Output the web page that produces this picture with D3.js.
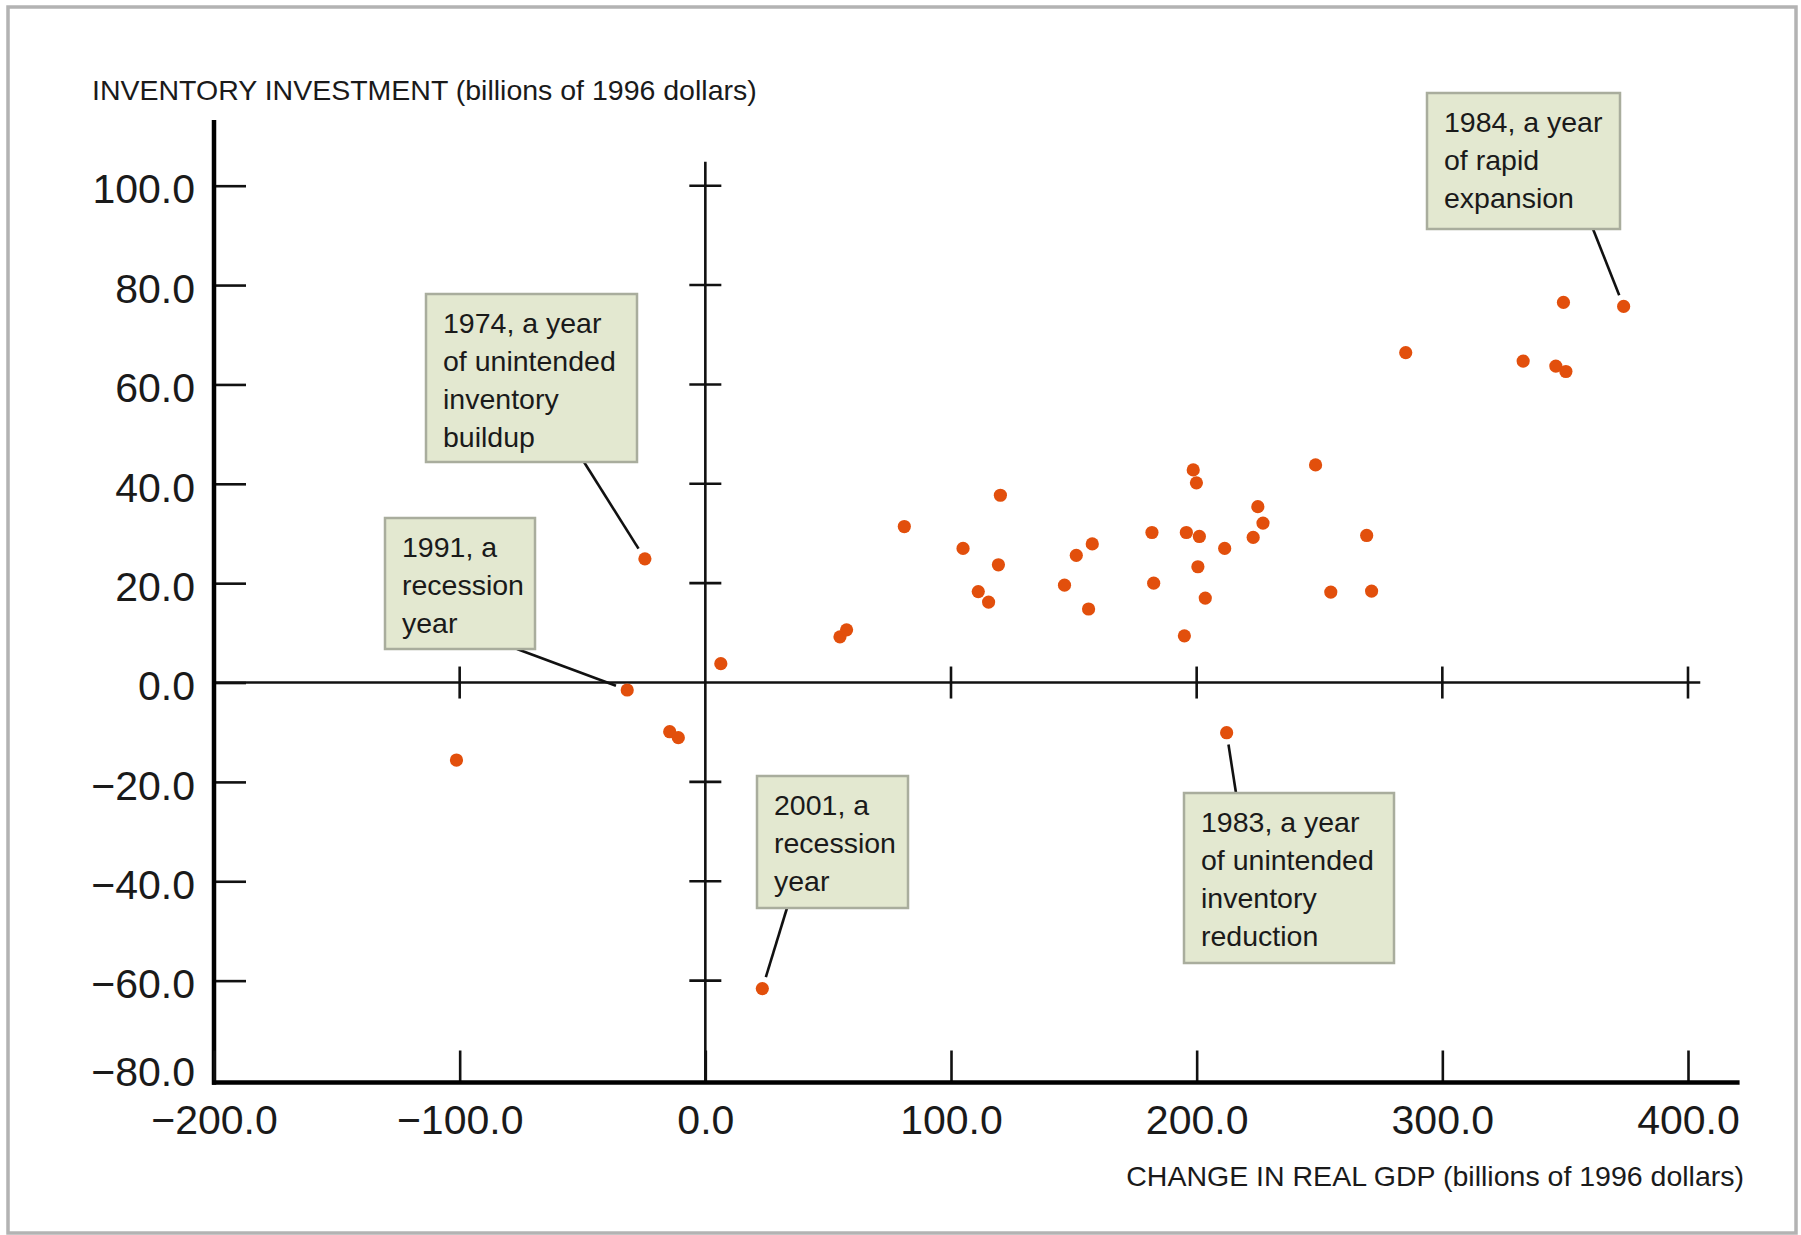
<!DOCTYPE html>
<html>
<head>
<meta charset="utf-8">
<script src="https://cdn.jsdelivr.net/npm/d3@7"></script>
<style>
  html, body { margin: 0; padding: 0; background: #ffffff; }
  svg { display: block; }
  text { font-family: "Liberation Sans", Arial, sans-serif; fill: #1a1a1a; }
</style>
</head>
<body>
<svg id="chart" width="1801" height="1235"></svg>
<script>
// ---- Data ----
const gdpChange = [-101.3, -31.8, -24.6, -14.5, -11.0, 6.3, 23.2, 54.8, 57.5, 81.0,
  104.9, 111.1, 115.3, 119.3, 120.1, 146.2, 151.0, 156.0, 157.5, 181.8,
  182.5, 195.0, 195.8, 198.6, 199.9, 200.5, 201.1, 203.5, 211.4, 212.2,
  223.0, 224.9, 227.0, 248.4, 254.6, 269.2, 271.2, 285.1, 332.9, 346.2,
  349.3, 350.3, 373.8];
const inventoryInvestment = [-15.6, -1.5, 24.9, -9.9, -11.1, 3.8, -61.6, 9.2, 10.6, 31.4,
  27.0, 18.3, 16.2, 23.7, 37.7, 19.6, 25.6, 14.8, 27.9, 30.2,
  20.0, 9.4, 30.2, 42.8, 40.2, 23.3, 29.4, 17.0, 27.0, -10.1,
  29.2, 35.4, 32.1, 43.8, 18.2, 29.6, 18.4, 66.4, 64.7, 63.7,
  76.5, 62.6, 75.7];
const xTicks = [-200, -100, 0, 100, 200, 300, 400];
const yTicks = [-80, -60, -40, -20, 0, 20, 40, 60, 80, 100];
const yTitle = "INVENTORY INVESTMENT (billions of 1996 dollars)";
const xTitle = "CHANGE IN REAL GDP (billions of 1996 dollars)";
const annotationYears = ["1974", "1991", "2001", "1983", "1984"];
const annotationPointIndex = [2, 1, 6, 29, 42];
const annotationLines = [
  ["1974, a year", "of unintended", "inventory", "buildup"],
  ["1991, a", "recession", "year"],
  ["2001, a", "recession", "year"],
  ["1983, a year", "of unintended", "inventory", "reduction"],
  ["1984, a year", "of rapid", "expansion"]
];

// ---- Layout ----
const boxLayout = [
  { x: 426, y: 294, w: 211, h: 168, lx: 584, ly: 462 },
  { x: 385, y: 518, w: 150, h: 131, lx: 517, ly: 649 },
  { x: 757, y: 776, w: 151, h: 132, lx: 787, ly: 908 },
  { x: 1184, y: 793, w: 210, h: 170, lx: 1236, ly: 793 },
  { x: 1427, y: 93, w: 193, h: 136, lx: 1593, ly: 229 }
];
const axisDrop = 2.5; // thick bottom axis sits slightly below the -80 gridline

const svg = d3.select("#chart");
const x = d3.scaleLinear().domain([-200, 400]).range([214, 1688]);
const y = d3.scaleLinear().domain([-80, 100]).range([1080, 185.7]);
const fmt = d3.format(".1f");

// frame
svg.append("rect").attr("x", 8).attr("y", 7).attr("width", 1788).attr("height", 1226)
  .attr("fill", "#ffffff").attr("stroke", "#b3b3b3").attr("stroke-width", 3.5);

// zero lines
svg.append("line").attr("x1", x(-200)).attr("x2", x(405))
  .attr("y1", y(0)).attr("y2", y(0)).attr("stroke", "#111").attr("stroke-width", 2.6);
svg.append("line").attr("x1", x(0)).attr("x2", x(0))
  .attr("y1", y(104.8)).attr("y2", y(-80) + axisDrop).attr("stroke", "#111").attr("stroke-width", 2.6);

// cross ticks on zero lines
svg.append("g").selectAll("line").data(yTicks.filter(v => v !== 0 && v !== -80)).join("line")
  .attr("x1", x(0) - 16).attr("x2", x(0) + 16)
  .attr("y1", d => y(d)).attr("y2", d => y(d))
  .attr("stroke", "#111").attr("stroke-width", 2.6);
svg.append("g").selectAll("line").data(xTicks.filter(v => v !== 0 && v !== -200)).join("line")
  .attr("y1", y(0) - 16).attr("y2", y(0) + 16)
  .attr("x1", d => x(d)).attr("x2", d => x(d))
  .attr("stroke", "#111").attr("stroke-width", 2.6);

// left axis
const yAxisG = svg.append("g").attr("transform", `translate(${x(-200)},0)`)
  .call(d3.axisLeft(y).tickValues(yTicks).tickFormat(fmt).tickSizeInner(-32).tickSizeOuter(0).tickPadding(19));
yAxisG.select(".domain").remove();
yAxisG.selectAll(".tick line").attr("stroke", "#111").attr("stroke-width", 2.6)
  .attr("display", d => d === -80 ? "none" : null);
yAxisG.selectAll(".tick text")
  .attr("font-size", 41).attr("fill", "#1a1a1a")
  .attr("dy", d => d === -80 ? "0.14em" : "0.42em");
svg.append("line").attr("x1", x(-200)).attr("x2", x(-200))
  .attr("y1", y(113.2)).attr("y2", y(-80) + axisDrop + 2.2)
  .attr("stroke", "#000").attr("stroke-width", 4.5);

// bottom axis
const xAxisG = svg.append("g").attr("transform", `translate(0,${y(-80) + axisDrop})`)
  .call(d3.axisBottom(x).tickValues(xTicks).tickFormat(fmt).tickSizeInner(-32).tickSizeOuter(0).tickPadding(22));
xAxisG.select(".domain").remove();
xAxisG.selectAll(".tick line").attr("stroke", "#111").attr("stroke-width", 2.6);
xAxisG.selectAll(".tick text").attr("font-size", 41).attr("fill", "#1a1a1a");
svg.append("line").attr("x1", x(-200) - 2).attr("x2", x(421))
  .attr("y1", y(-80) + axisDrop).attr("y2", y(-80) + axisDrop)
  .attr("stroke", "#000").attr("stroke-width", 4.5);

// axis titles
svg.append("text").attr("x", 92).attr("y", 100).attr("font-size", 28.5).text(yTitle);
svg.append("text").attr("x", 1744).attr("y", 1186).attr("font-size", 28.5)
  .attr("text-anchor", "end").text(xTitle);

// annotations
const ann = annotationYears.map((yr, i) => ({
  year: yr, lines: annotationLines[i], box: boxLayout[i],
  px: x(gdpChange[annotationPointIndex[i]]), py: y(inventoryInvestment[annotationPointIndex[i]])
}));
const annG = svg.append("g");
ann.forEach(a => {
  const dx = a.box.lx - a.px, dy = a.box.ly - a.py;
  const len = Math.hypot(dx, dy);
  const gap = 12;
  annG.append("line")
    .attr("x1", a.box.lx).attr("y1", a.box.ly)
    .attr("x2", a.px + dx / len * gap).attr("y2", a.py + dy / len * gap)
    .attr("stroke", "#111").attr("stroke-width", 2.6);
  annG.append("rect").attr("x", a.box.x).attr("y", a.box.y)
    .attr("width", a.box.w).attr("height", a.box.h)
    .attr("fill", "#e3e8d0").attr("stroke", "#a9ad9d").attr("stroke-width", 2.5);
  const t = annG.append("text").attr("font-size", 28.5).attr("fill", "#1a1a1a");
  a.lines.forEach((ln, j) => {
    t.append("tspan").attr("x", a.box.x + 17).attr("y", a.box.y + 39 + j * 38).text(ln);
  });
});

// points
svg.append("g").selectAll("circle").data(gdpChange.map((g, i) => [g, inventoryInvestment[i]]))
  .join("circle")
  .attr("cx", d => x(d[0])).attr("cy", d => y(d[1])).attr("r", 6.6)
  .attr("fill", "#e24f0c");
</script>
</body>
</html>
